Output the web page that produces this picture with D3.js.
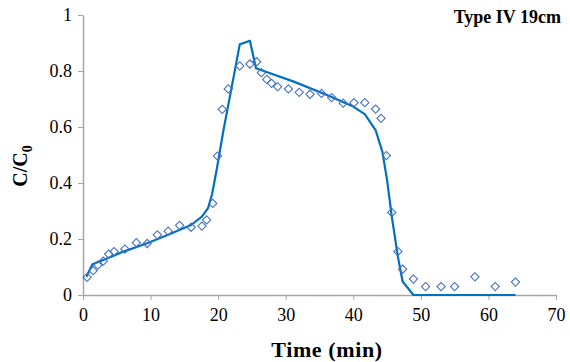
<!DOCTYPE html>
<html>
<head>
<meta charset="utf-8">
<script src="https://cdn.jsdelivr.net/npm/d3@7"></script>
<style>
  body { margin: 0; background: #fff; }
</style>
</head>
<body>
<div id="chart"></div>
<script>
// measured points (diamonds)
const obsTime = [0.6, 1.5, 2.2, 3.0, 3.8, 4.6, 6.2, 7.9, 9.5, 11.0, 12.6, 14.3, 16.0, 17.6, 18.3, 19.2,
  19.9, 20.6, 21.5, 23.2, 24.7, 25.7, 26.4, 27.2, 27.9, 28.8, 30.4, 32.0, 33.6, 35.3, 36.8, 38.5,
  40.1, 41.7, 43.3, 44.1, 44.9, 45.7, 46.6, 47.3, 48.9, 50.7, 53.0, 55.0, 58.0, 61.0, 64.0];
const obsConc = [0.063, 0.087, 0.107, 0.121, 0.146, 0.155, 0.164, 0.187, 0.184, 0.215, 0.228, 0.249, 0.242, 0.246, 0.268, 0.327,
  0.496, 0.663, 0.736, 0.818, 0.825, 0.833, 0.794, 0.770, 0.756, 0.744, 0.736, 0.724, 0.717, 0.720, 0.705, 0.685,
  0.687, 0.687, 0.664, 0.631, 0.498, 0.295, 0.155, 0.092, 0.057, 0.030, 0.030, 0.030, 0.065, 0.030, 0.046];

// model curve (solid line)
const modelTime = [0.5, 1.4, 3.0, 6.0, 9.5, 12.6, 16.0, 17.6, 18.5, 19.1, 19.8, 20.8, 22.3, 23.2, 24.7, 25.6,
  31.2, 36.1, 40.0, 41.7, 43.3, 44.3, 45.0, 45.7, 46.6, 47.3, 48.9, 64.0];
const modelConc = [0.065, 0.11, 0.125, 0.155, 0.185, 0.215, 0.25, 0.28, 0.31, 0.36, 0.45, 0.59, 0.78, 0.895, 0.908, 0.81,
  0.762, 0.714, 0.673, 0.646, 0.589, 0.512, 0.411, 0.28, 0.137, 0.048, 0, 0];

const xTicks = [0, 10, 20, 30, 40, 50, 60, 70];
const yTicks = [0, 0.2, 0.4, 0.6, 0.8, 1];

const width = 570, height = 362;
const margin = { top: 15, right: 14, bottom: 67, left: 83 };
const serif = '"Liberation Serif", "Times New Roman", serif';

const svg = d3.select('#chart').append('svg')
  .attr('width', width)
  .attr('height', height)
  .style('font-family', serif);

const x = d3.scaleLinear().domain([0, 70]).range([margin.left, width - margin.right]);
const y = d3.scaleLinear().domain([0, 1]).range([height - margin.bottom, margin.top]);

const axisColor = '#a6a6a6';

// x axis
const gx = svg.append('g')
  .attr('transform', `translate(0,${y(0)})`)
  .call(d3.axisBottom(x).tickValues(xTicks).tickFormat(d3.format('d')).tickSize(5).tickSizeOuter(0));
gx.attr('font-family', null);
gx.select('.domain').attr('stroke', axisColor).attr('stroke-width', 1.5);
gx.selectAll('.tick line').attr('stroke', axisColor);
gx.selectAll('.tick text')
  .attr('fill', '#000')
  .style('font-family', serif)
  .style('font-size', '18px')
  .attr('dy', '1.0em');

// y axis
const gy = svg.append('g')
  .attr('transform', `translate(${x(0)},0)`)
  .call(d3.axisLeft(y).tickValues(yTicks)
    .tickFormat(d => d === 0 || d === 1 ? d3.format('d')(d) : d3.format('.1f')(d))
    .tickSize(5).tickSizeOuter(0));
gy.attr('font-family', null);
gy.select('.domain').attr('stroke', axisColor).attr('stroke-width', 1.5);
gy.selectAll('.tick line').attr('stroke', axisColor);
gy.selectAll('.tick text')
  .attr('fill', '#000')
  .style('font-family', serif)
  .style('font-size', '18px')
  .attr('x', -11);

// model line
const modelData = modelTime.map((t, i) => ({ t, c: modelConc[i] }));
svg.append('path')
  .datum(modelData)
  .attr('fill', 'none')
  .attr('stroke', '#0070c0')
  .attr('stroke-width', 2.2)
  .attr('stroke-linejoin', 'round')
  .attr('d', d3.line().x(d => x(d.t)).y(d => y(d.c)));

// observed diamonds
const obsData = obsTime.map((t, i) => ({ t, c: obsConc[i] }));
const diamond = d3.symbol().type(d3.symbolSquare).size(34);
svg.append('g').selectAll('path')
  .data(obsData)
  .enter()
  .append('path')
  .attr('d', diamond)
  .attr('transform', d => `translate(${x(d.t)},${y(d.c)}) rotate(45)`)
  .attr('fill', 'none')
  .attr('stroke', '#4472c4')
  .attr('stroke-width', 1.1);

// title
svg.append('text')
  .attr('x', 561)
  .attr('y', 23)
  .attr('text-anchor', 'end')
  .style('font-size', '18px')
  .style('font-weight', 'bold')
  .text('Type IV 19cm');

// x label
svg.append('text')
  .attr('x', 327)
  .attr('y', 357)
  .attr('text-anchor', 'middle')
  .style('font-size', '22px')
  .style('font-weight', 'bold')
  .style('letter-spacing', '0.6px')
  .text('Time (min)');

// y label
const yl = svg.append('text')
  .attr('transform', 'translate(27,166) rotate(-90)')
  .attr('text-anchor', 'middle')
  .style('font-size', '20px')
  .style('font-weight', 'bold');
yl.append('tspan').text('C/C');
yl.append('tspan').attr('dy', 5).style('font-size', '14px').text('0');
</script>
</body>
</html>
